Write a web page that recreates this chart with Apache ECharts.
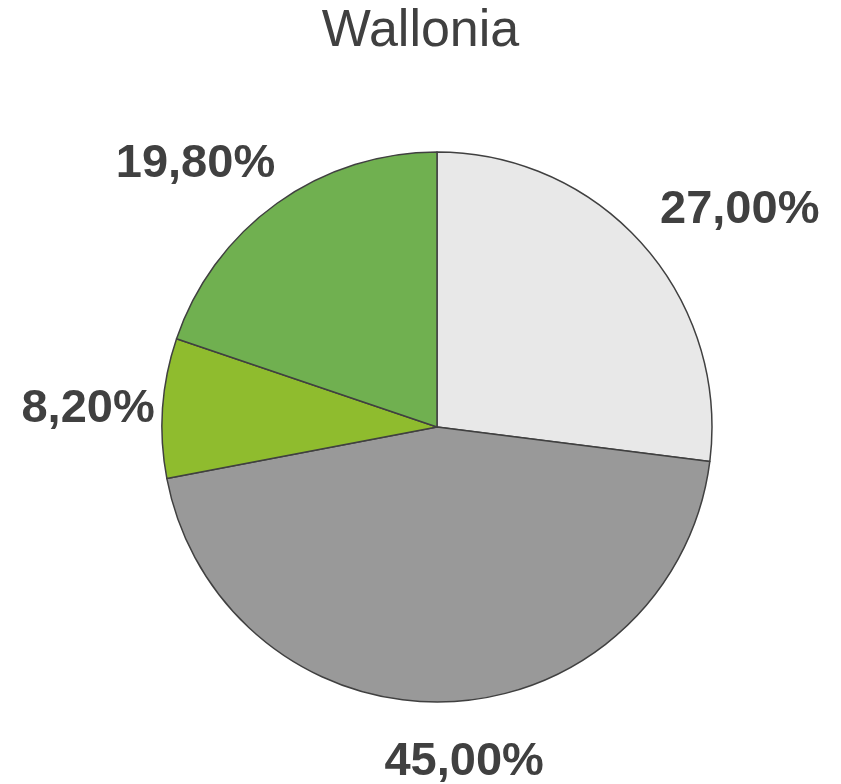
<!DOCTYPE html>
<html>
<head>
<meta charset="utf-8">
<script src="https://cdn.jsdelivr.net/npm/echarts@6/dist/echarts.min.js"></script>
<style>
  html, body { margin: 0; padding: 0; background: #fff; }
  #main { width: 841px; height: 784px; }
</style>
</head>
<body>
<div id="main"></div>
<script>
const categories = ["A", "B", "C", "D"];
const values = [27.0, 45.0, 8.2, 19.8];
const colors = ["#e8e8e8", "#999999", "#8fbc2e", "#70b050"];

(function () {
  const myChart = echarts.init(document.getElementById("main"));

  // nudge the outside labels to where the original sits them
  const nudge = [[-7, -19], [-67, 35], [22, 3], [18, -19]];

  const option = {
    title: {
      text: "Wallonia",
      left: "center",
      top: 1,
      textStyle: {
        fontFamily: "Liberation Sans",
        fontSize: 52,
        fontWeight: "normal",
        color: "#404040",
      },
    },
    series: [
      {
        type: "pie",
        center: [437, 427],
        radius: 275,
        startAngle: 90,
        clockwise: true,
        animation: false,
        itemStyle: {
          borderColor: "#404040",
          borderWidth: 1.5,
        },
        label: {
          show: true,
          position: "outside",
          overflow: "none",
          formatter: function (p) {
            return p.value.toFixed(2).replace(".", ",") + "%";
          },
          fontFamily: "Liberation Sans",
          fontSize: 47,
          fontWeight: "bold",
          color: "#404040",
        },
        labelLine: {
          show: false,
          length: 25,
          length2: 0,
        },
        labelLayout: function (p) {
          const n = nudge[p.dataIndex];
          return { dx: n[0], dy: n[1] };
        },
        emphasis: { disabled: true },
        data: categories.map(function (c, i) {
          return { name: c, value: values[i], itemStyle: { color: colors[i] } };
        }),
      },
    ],
  };

  myChart.setOption(option);
})();
</script>
</body>
</html>
